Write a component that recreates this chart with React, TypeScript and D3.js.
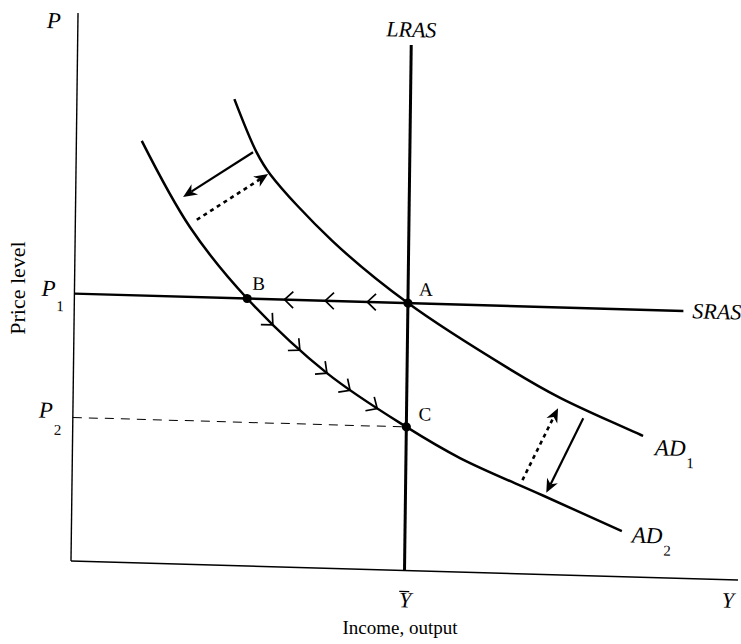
import React, { useEffect, useRef } from "react";
import * as d3 from "d3";

// axis units run 0..100 on both axes
const yBar = 50; // full-employment output (LRAS)
const p1 = 48.8;
const p2 = 26.2;
const lrasTop = 95.9;
const srasEnd = 91.3;
const pointBX = 25.9;

// aggregate demand curves
const ad1X = [23.6, 27.0, 29.1, 38.5, 50, 65.5, 73.0, 85.5];
const ad1Y = [85.1, 75.6, 71.6, 59.8, 48.8, 37.2, 32.3, 25.8];
const ad2X = [9.8, 17.2, 25.9, 38.0, 50, 58.1, 70.6, 82.5];
const ad2Y = [77.0, 61.5, 48.8, 35.6, 26.2, 20.8, 14.4, 8.3];

// direction marks A -> B on SRAS and B -> C on AD2
const srasMarksX = [31.5, 37.6, 43.9];
const ad2MarksX = [29.8, 33.9, 38.0, 41.5, 45.6];

// shift arrows [xFrom, yFrom, xTo, yTo]
const solidArrows = [
  [26.5, 75.5, 16.1, 67.0],
  [76.5, 28.7, 71.1, 14.9],
];
const dottedArrows = [
  [18.2, 62.9, 28.8, 71.6],
  [67.5, 17.1, 72.7, 30.4],
];

const App: React.FC = () => {
  const svgRef = useRef<SVGSVGElement | null>(null);

  useEffect(() => {
    const width = 741;
    const height = 644;
    const x0 = 71;
    const y0 = 561;
    const font = "'Liberation Serif', 'Times New Roman', serif";

    const x = d3.scaleLinear().domain([0, 100]).range([x0, 738]);
    const y = d3.scaleLinear().domain([0, 100]).range([y0, 13]);

    const svg = d3.select(svgRef.current);
    svg.selectAll("*").remove();
    svg
      .attr("viewBox", [0, 0, width, height])
      .attr("width", width)
      .attr("height", height)
      .style("position", "absolute")
      .style("left", "0px")
      .style("top", "0px")
      .style("background", "#fff");

    // the scanned page sits a little skewed
    const g = svg
      .append("g")
      .attr(
        "transform",
        `translate(${x0},${y0}) matrix(1,0.0285,-0.0128,1,0,0) translate(${-x0},${-y0})`,
      );

    const seg = (
      xa: number,
      ya: number,
      xb: number,
      yb: number,
      w: number,
      dash?: string,
    ) => {
      const l = g
        .append("line")
        .attr("x1", xa)
        .attr("y1", ya)
        .attr("x2", xb)
        .attr("y2", yb)
        .attr("stroke", "#000")
        .attr("stroke-width", w);
      if (dash) l.attr("stroke-dasharray", dash);
      return l;
    };

    // axes
    seg(x(0), y(0), x(0), y(100), 1.4);
    seg(x(0), y(0), x(100), y(0), 1.4);

    // P2 guide
    seg(x(0), y(p2), x(yBar), y(p2), 1, "9,7");

    // SRAS and LRAS
    seg(x(0), y(p1), x(srasEnd), y(p1), 2.4);
    seg(x(yBar), y(0), x(yBar), y(lrasTop), 3);

    const curve = d3
      .line<[number, number]>()
      .x((d) => x(d[0]))
      .y((d) => y(d[1]))
      .curve(d3.curveCatmullRom.alpha(0.5));

    g.append("path")
      .attr("d", curve(d3.zip(ad1X, ad1Y) as [number, number][]))
      .attr("fill", "none")
      .attr("stroke", "#000")
      .attr("stroke-width", 2.5);

    const ad2Path = g
      .append("path")
      .attr("d", curve(d3.zip(ad2X, ad2Y) as [number, number][]))
      .attr("fill", "none")
      .attr("stroke", "#000")
      .attr("stroke-width", 2.5);

    // chevrons
    const chevron = (cx: number, cy: number, ang: number) => {
      const L = 12;
      const s = 0.76;
      const back = ang + Math.PI;
      g.append("path")
        .attr(
          "d",
          `M${cx + L * Math.cos(back - s)},${cy + L * Math.sin(back - s)}L${cx},${cy}L${cx + L * Math.cos(back + s)},${cy + L * Math.sin(back + s)}`,
        )
        .attr("fill", "none")
        .attr("stroke", "#000")
        .attr("stroke-width", 1.7);
    };

    srasMarksX.forEach((m) => chevron(x(m), y(p1), Math.PI));

    const node = ad2Path.node() as SVGPathElement;
    const total = node.getTotalLength();
    const lenAtX = (px: number) => {
      let lo = 0;
      let hi = total;
      for (let i = 0; i < 40; i++) {
        const mid = (lo + hi) / 2;
        if (node.getPointAtLength(mid).x < px) lo = mid;
        else hi = mid;
      }
      return lo;
    };
    ad2MarksX.forEach((m) => {
      const len = lenAtX(x(m));
      const p = node.getPointAtLength(len);
      const q = node.getPointAtLength(len + 1);
      chevron(p.x, p.y, Math.atan2(q.y - p.y, q.x - p.x));
    });

    // shift arrows
    const arrow = (a: number[], dotted: boolean) => {
      const xa = x(a[0]);
      const ya = y(a[1]);
      const xb = x(a[2]);
      const yb = y(a[3]);
      const ang = Math.atan2(yb - ya, xb - xa);
      const head = 14;
      const half = 6;
      const c = Math.cos(ang);
      const s = Math.sin(ang);
      const bx = xb - head * c;
      const by = yb - head * s;
      const nx = xb - head * 0.7 * c;
      const ny = yb - head * 0.7 * s;
      seg(xa, ya, nx, ny, dotted ? 2.6 : 2.2, dotted ? "4,4" : undefined);
      g.append("path")
        .attr(
          "d",
          `M${xb},${yb}L${bx - half * s},${by + half * c}L${nx},${ny}L${bx + half * s},${by - half * c}Z`,
        )
        .attr("fill", "#000");
    };
    solidArrows.forEach((a) => arrow(a, false));
    dottedArrows.forEach((a) => arrow(a, true));

    // equilibrium points
    const points: [number, number, string, number, number][] = [
      [yBar, p1, "A", 11, -8],
      [pointBX, p1, "B", 5, -9],
      [yBar, p2, "C", 12, -7],
    ];
    points.forEach(([px, py, name, dx, dy]) => {
      g.append("circle")
        .attr("cx", x(px))
        .attr("cy", y(py))
        .attr("r", 4.6)
        .attr("fill", "#000");
      g.append("text")
        .attr("x", x(px) + dx)
        .attr("y", y(py) + dy)
        .attr("font-family", font)
        .attr("font-size", 19)
        .text(name);
    });

    const label = (
      lx: number,
      ly: number,
      main: string,
      sub: string | null,
      size: number,
      anchor = "start",
      subDy = 12,
    ) => {
      const t = g
        .append("text")
        .attr("x", lx)
        .attr("y", ly)
        .attr("font-family", font)
        .attr("font-size", size)
        .attr("text-anchor", anchor);
      t.append("tspan").attr("font-style", "italic").text(main);
      if (sub) {
        t.append("tspan")
          .attr("font-size", 15)
          .attr("dx", 1)
          .attr("dy", subDy)
          .text(sub);
      }
      return t;
    };

    label(x(0) - 31, y(100) + 16, "P", null, 23);
    label(x(0) - 33, y(p1) + 3, "P", "1", 23, "start", 15);
    label(x(0) - 34, y(p2) + 1, "P", "2", 23, "start", 17);
    label(x(yBar), y(lrasTop) - 8, "LRAS", null, 22, "middle");
    label(x(srasEnd) + 9, y(p1) + 7, "SRAS", null, 22);
    label(x(ad1X[ad1X.length - 1]) + 12, y(ad1Y[ad1Y.length - 1]) + 19, "AD", "1", 23);
    label(x(ad2X[ad2X.length - 1]) + 10, y(ad2Y[ad2Y.length - 1]) + 11, "AD", "2", 23);
    label(x(yBar) + 1, y(0) + 37, "Y", null, 22, "middle");
    seg(x(yBar) - 5, y(0) + 21, x(yBar) + 5, y(0) + 21, 1.2);
    label(x(100) - 16, y(0) + 28, "Y", null, 22);

    // axis titles (page coordinates)
    svg
      .append("text")
      .attr("x", 400)
      .attr("y", 634)
      .attr("text-anchor", "middle")
      .attr("font-family", font)
      .attr("font-size", 19)
      .text("Income, output");
    svg
      .append("text")
      .attr("transform", "translate(25,288) rotate(-90)")
      .attr("text-anchor", "middle")
      .attr("font-family", font)
      .attr("font-size", 22)
      .text("Price level");
  }, []);

  return <svg ref={svgRef}></svg>;
};

export default App;
